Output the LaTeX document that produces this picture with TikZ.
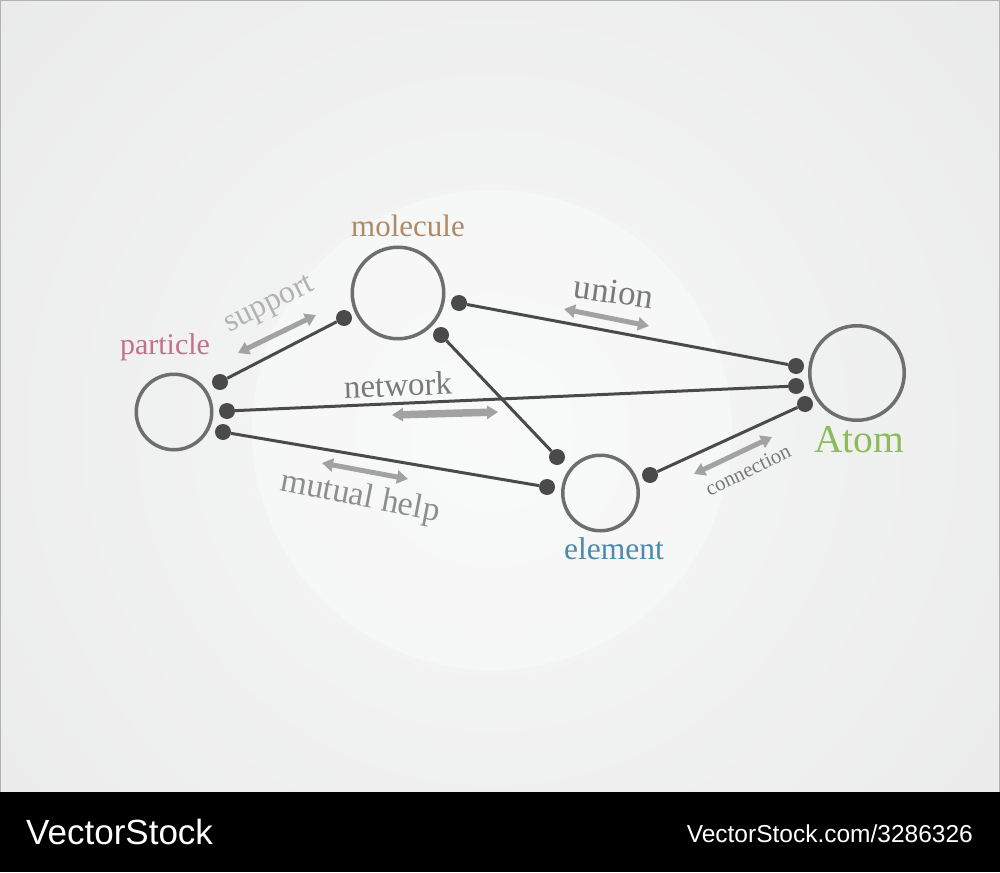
\documentclass[tikz,border=0pt]{standalone}
\usepackage{fontspec}
\setmainfont{Liberation Serif}
\newfontfamily\wmfont{Liberation Sans}
\usetikzlibrary{arrows.meta}
\definecolor{ringc}{HTML}{6E6E6E}
\definecolor{dotc}{HTML}{4A4A4A}
\definecolor{arrc}{HTML}{A2A2A2}
\definecolor{molc}{HTML}{B08A66}
\definecolor{parc}{HTML}{C4708A}
\definecolor{atomc}{HTML}{8CBB5A}
\definecolor{elemc}{HTML}{4B8AAA}
\definecolor{labc}{HTML}{7A7A7A}
\definecolor{supc}{HTML}{B2B2B2}
\definecolor{bgin}{HTML}{F6F7F7}
\definecolor{bgout}{HTML}{E2E2E2}
\tikzset{
  ring/.style={circle, draw=ringc, line width=3.5pt, inner sep=0pt},
  dotnode/.style={circle, fill=dotc, inner sep=0pt, minimum size=16pt},
  conn/.style={draw=dotc, line width=3pt},
  garrow/.style={draw=arrc, line width=5pt, {Triangle[width=13pt,length=11pt]}-{Triangle[width=13pt,length=11pt]}},
  lab/.style={inner sep=0pt, anchor=center},
}
\begin{document}
\begin{tikzpicture}[x=1pt,y=-1pt]
\useasboundingbox (0,0) rectangle (1000,872);
% background
\begin{scope}
\clip (0,0) rectangle (1000,792);
\shade[inner color=bgin, outer color=bgout] (492,430) circle (1150);
\fill[white, opacity=0.35] (492,430) circle (240);
\end{scope}
\draw[draw=gray!60, line width=1pt] (0.5,0.5) rectangle (999.5,792);
\fill[black] (0,792) rectangle (1000,872);
\node[lab, anchor=west, text=white] (wm1) at (26,832) {\wmfont\fontsize{35}{35}\selectfont VectorStock};
\node[lab, anchor=east, text=white] (wm2) at (973,834) {\wmfont\fontsize{24.5}{25}\selectfont VectorStock.com/3286326};
% circles
\node[ring, minimum size=75.5pt] (particle) at (174,412) {};
\node[ring, minimum size=91.5pt] (molecule) at (398,293) {};
\node[ring, minimum size=75.5pt] (element) at (600.5,493) {};
\node[ring, minimum size=94.5pt] (atom) at (857,373) {};
% dots
\node[dotnode] (p1) at (220,382) {};
\node[dotnode] (p2) at (227,411) {};
\node[dotnode] (p3) at (223,432) {};
\node[dotnode] (m1) at (344,318) {};
\node[dotnode] (m2) at (459,303) {};
\node[dotnode] (m3) at (441,335) {};
\node[dotnode] (a1) at (796,366) {};
\node[dotnode] (a2) at (796,386) {};
\node[dotnode] (a3) at (805,404) {};
\node[dotnode] (e1) at (557,457) {};
\node[dotnode] (e2) at (547,487) {};
\node[dotnode] (e3) at (650,475) {};
% connectors
\draw[conn] (p1) -- (m1);
\draw[conn] (m2) -- (a1);
\draw[conn] (p2) -- (a2);
\draw[conn] (m3) -- (e1);
\draw[conn] (p3) -- (e2);
\draw[conn] (e3) -- (a3);
% gray double arrows
\coordinate (s1) at (238,353); \coordinate (s2) at (316,315);
\coordinate (n1) at (392,415); \coordinate (n2) at (498,412);
\coordinate (h1) at (322,463); \coordinate (h2) at (408,479);
\coordinate (u1) at (564,309); \coordinate (u2) at (649,326);
\coordinate (c1) at (694,474); \coordinate (c2) at (772,437);
\draw[garrow] (s1) -- (s2);
\draw[garrow, line width=7.5pt] (n1) -- (n2);
\draw[garrow] (h1) -- (h2);
\draw[garrow] (u1) -- (u2);
\draw[garrow] (c1) -- (c2);
% labels
\node[lab, text=molc] (lmol) at (408,226) {\fontsize{31}{31}\selectfont molecule};
\node[lab, text=parc] (lpar) at (165,347) {\fontsize{30}{30}\selectfont particle};
\node[lab, text=atomc] (latom) at (859,440) {\fontsize{39.5}{40}\selectfont Atom};
\node[lab, text=elemc] (lelem) at (614,549) {\fontsize{31.5}{32}\selectfont element};
\node[lab, text=labc, rotate=2] (lnet) at (398,385) {\fontsize{33}{33}\selectfont network};
\node[lab, text=labc, rotate=-8] (luni) at (614,292) {\fontsize{35}{35}\selectfont union};
\node[lab, text=supc, rotate=26] (lsup) at (270,306) {\fontsize{32}{32}\selectfont support};
\node[lab, text=labc!85, rotate=-11] (lmut) at (360,498) {\fontsize{34}{34}\selectfont mutual help};
\node[lab, text=labc, rotate=26] (lcon) at (748,470) {\fontsize{21}{21}\selectfont connection};
\end{tikzpicture}
\end{document}
